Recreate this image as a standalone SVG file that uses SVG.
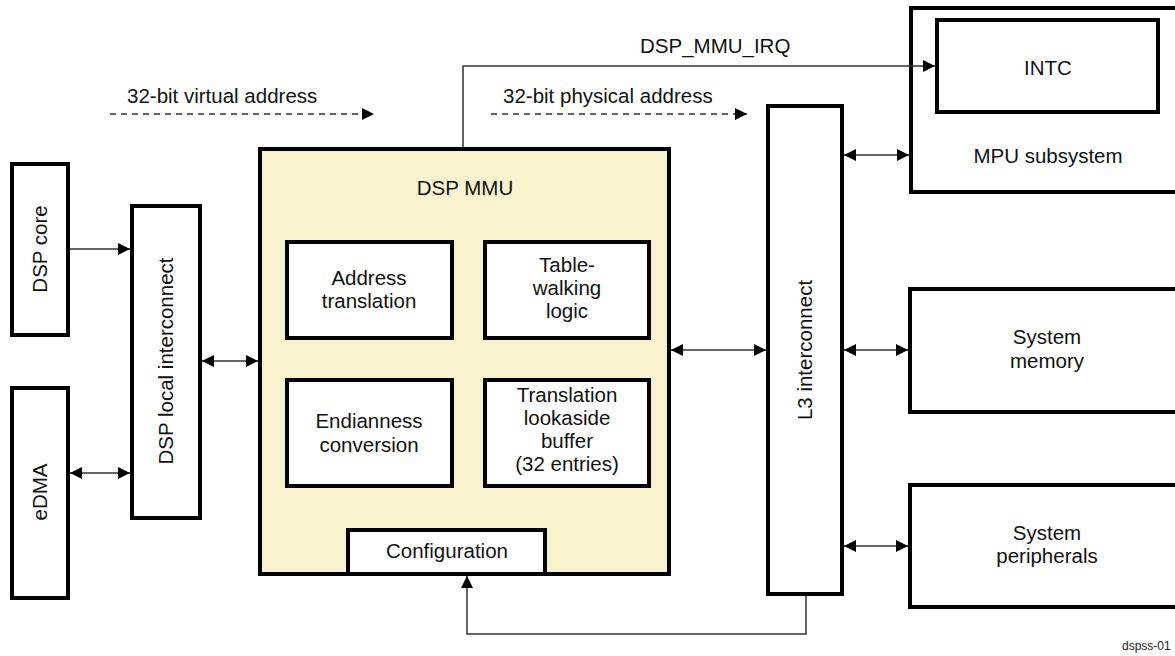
<svg xmlns="http://www.w3.org/2000/svg" width="1175" height="656" viewBox="0 0 1175 656">
<style>
.box{fill:#fff;stroke:#000;stroke-width:4}
.mmu{fill:#F8F2CF;stroke:#000;stroke-width:4}
.t{font-family:"Liberation Sans",Arial,sans-serif;font-size:20.5px;fill:#111;text-anchor:middle}
.ts{font-family:"Liberation Sans",Arial,sans-serif;font-size:20.5px;fill:#111}
.c{fill:none;stroke:#333;stroke-width:1.5}
.d{fill:none;stroke:#333;stroke-width:1.5;stroke-dasharray:6 5}
</style>
<defs>
<marker id="ah2" viewBox="0 0 12 12" refX="12" refY="6" markerWidth="12" markerHeight="12" markerUnits="userSpaceOnUse" orient="auto-start-reverse">
<path d="M0,0 L12,6 L0,12 Z" fill="#000"/>
</marker>
</defs>

<g id="labels">
<text class="ts" x="127" y="103">32-bit virtual address</text>
<text class="ts" x="503" y="103">32-bit physical address</text>
<text class="ts" x="640" y="53">DSP_MMU_IRQ</text>
<text x="1122" y="650" style="font-family:'Liberation Sans',Arial,sans-serif;font-size:12px;fill:#222">dspss-01</text>
</g>

<g id="dsp-core">
<rect class="box" x="12" y="164" width="56" height="171"/>
<text class="t" transform="translate(47,249) rotate(-90)">DSP core</text>
</g>
<g id="edma">
<rect class="box" x="12" y="388" width="56" height="210"/>
<text class="t" transform="translate(47,492) rotate(-90)">eDMA</text>
</g>
<g id="dsp-local-interconnect">
<rect class="box" x="132" y="206" width="68" height="312"/>
<text class="t" transform="translate(173,361) rotate(-90)">DSP local interconnect</text>
</g>

<g id="dsp-mmu">
<rect class="mmu" x="260" y="149" width="409" height="425"/>
<text class="t" x="465" y="195">DSP MMU</text>
</g>
<g id="address-translation">
<rect class="box" x="287" y="242" width="165" height="96"/>
<text class="t" x="369" y="285">Address</text>
<text class="t" x="369" y="308">translation</text>
</g>
<g id="table-walking">
<rect class="box" x="485" y="242" width="164" height="96"/>
<text class="t" x="567" y="272">Table-</text>
<text class="t" x="567" y="295">walking</text>
<text class="t" x="567" y="318">logic</text>
</g>
<g id="endianness">
<rect class="box" x="287" y="380" width="165" height="106"/>
<text class="t" x="369" y="428">Endianness</text>
<text class="t" x="369" y="452">conversion</text>
</g>
<g id="tlb">
<rect class="box" x="485" y="380" width="164" height="106"/>
<text class="t" x="567" y="402">Translation</text>
<text class="t" x="567" y="425">lookaside</text>
<text class="t" x="567" y="448">buffer</text>
<text class="t" x="567" y="471">(32 entries)</text>
</g>
<g id="configuration">
<rect class="box" x="348" y="530" width="197" height="44"/>
<text class="t" x="447" y="558">Configuration</text>
</g>

<g id="l3-interconnect">
<rect class="box" x="768" y="106" width="74" height="488"/>
<text class="t" transform="translate(812,350) rotate(-90)">L3 interconnect</text>
</g>
<g id="mpu-subsystem">
<rect class="box" x="911" y="8" width="270" height="184"/>
<text class="t" x="1048" y="163">MPU subsystem</text>
</g>
<g id="intc">
<rect class="box" x="937" y="20" width="221" height="92"/>
<text class="t" x="1048" y="75">INTC</text>
</g>
<g id="system-memory">
<rect class="box" x="910" y="289" width="270" height="123"/>
<text class="t" x="1047" y="344">System</text>
<text class="t" x="1047" y="368">memory</text>
</g>
<g id="system-peripherals">
<rect class="box" x="910" y="485" width="270" height="122"/>
<text class="t" x="1047" y="540">System</text>
<text class="t" x="1047" y="563">peripherals</text>
</g>

<g id="connectors">
<path class="d" d="M110,114 H374" marker-end="url(#ah2)"/>
<path class="d" d="M491,114 H747" marker-end="url(#ah2)"/>
<path class="c" d="M463,147 V66 H935" marker-end="url(#ah2)"/>
<path class="c" d="M70,249 H130" marker-end="url(#ah2)"/>
<path class="c" d="M70,473 H130" marker-start="url(#ah2)" marker-end="url(#ah2)"/>
<path class="c" d="M202,361 H258" marker-start="url(#ah2)" marker-end="url(#ah2)"/>
<path class="c" d="M671,350 H766" marker-start="url(#ah2)" marker-end="url(#ah2)"/>
<path class="c" d="M844,155 H909" marker-start="url(#ah2)" marker-end="url(#ah2)"/>
<path class="c" d="M844,350 H908" marker-start="url(#ah2)" marker-end="url(#ah2)"/>
<path class="c" d="M844,546 H908" marker-start="url(#ah2)" marker-end="url(#ah2)"/>
<path class="c" d="M806,596 V634 H467 V576" marker-end="url(#ah2)"/>
</g>
</svg>
